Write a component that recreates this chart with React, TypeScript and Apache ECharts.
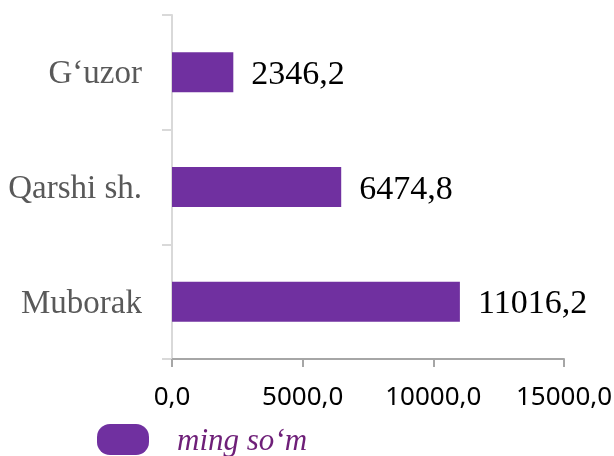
import React, { useEffect, useRef } from "react";
import * as echarts from "echarts";

const categories = ["Muborak", "Qarshi sh.", "G\u2018uzor"];
const values = [11016.2, 6474.8, 2346.2];
const seriesName = "ming so\u2018m";
const axisMin = 0;
const axisMax = 15000;
const axisInterval = 5000;

const fmt = (v: number) => v.toFixed(1).replace(".", ",");

export default function App() {
  const ref = useRef<HTMLDivElement>(null);
  useEffect(() => {
    if (!ref.current) return;
    const chart = echarts.init(ref.current, undefined, { renderer: "svg" });
    chart.setOption({
      animation: false,
      grid: {
        left: 172,
        right: 50,
        top: 15,
        bottom: 97,
        containLabel: false,
        outerBoundsMode: "none",
      },
      legend: {
        left: 92,
        top: 419,
        itemWidth: 52,
        itemHeight: 31,
        icon: "path://M13,0 H39 A13,13 0 0 1 52,13 V18 A13,13 0 0 1 39,31 H13 A13,13 0 0 1 0,18 V13 A13,13 0 0 1 13,0 Z",
        textStyle: {
          fontFamily: "Liberation Serif",
          fontStyle: "italic",
          fontSize: 31,
          color: "#6E1F78",
          padding: [0, 0, 0, 23],
        },
        data: [seriesName],
      },
      xAxis: {
        type: "value",
        min: axisMin,
        max: axisMax,
        interval: axisInterval,
        splitLine: { show: false },
        axisLine: { show: true, lineStyle: { color: "#a6a6a6", width: 2 } },
        axisTick: { show: true, length: 8, lineStyle: { color: "#a6a6a6", width: 2 } },
        axisLabel: {
          margin: 23,
          fontFamily: "Noto Sans",
          fontSize: 26,
          color: "#000000",
          formatter: (v: number) => fmt(v),
        },
      },
      yAxis: {
        type: "category",
        data: categories,
        axisLine: { show: true, lineStyle: { color: "#d9d9d9", width: 2 } },
        axisTick: { show: true, length: 10, lineStyle: { color: "#d9d9d9", width: 2 } },
        axisLabel: {
          margin: 30,
          fontFamily: "Liberation Serif",
          fontSize: 33,
          color: "#595959",
        },
      },
      series: [
        {
          name: seriesName,
          type: "bar",
          data: values,
          barWidth: 40,
          itemStyle: { color: "#7030A0" },
          label: {
            show: true,
            position: "right",
            distance: 18,
            fontFamily: "Liberation Serif",
            fontSize: 34,
            color: "#000000",
            formatter: (p: any) => fmt(p.value),
          },
        },
      ],
    });
    return () => chart.dispose();
  }, []);
  return (
    <div
      ref={ref}
      style={{ position: "fixed", left: 0, top: 0, width: 614, height: 456 }}
    />
  );
}
